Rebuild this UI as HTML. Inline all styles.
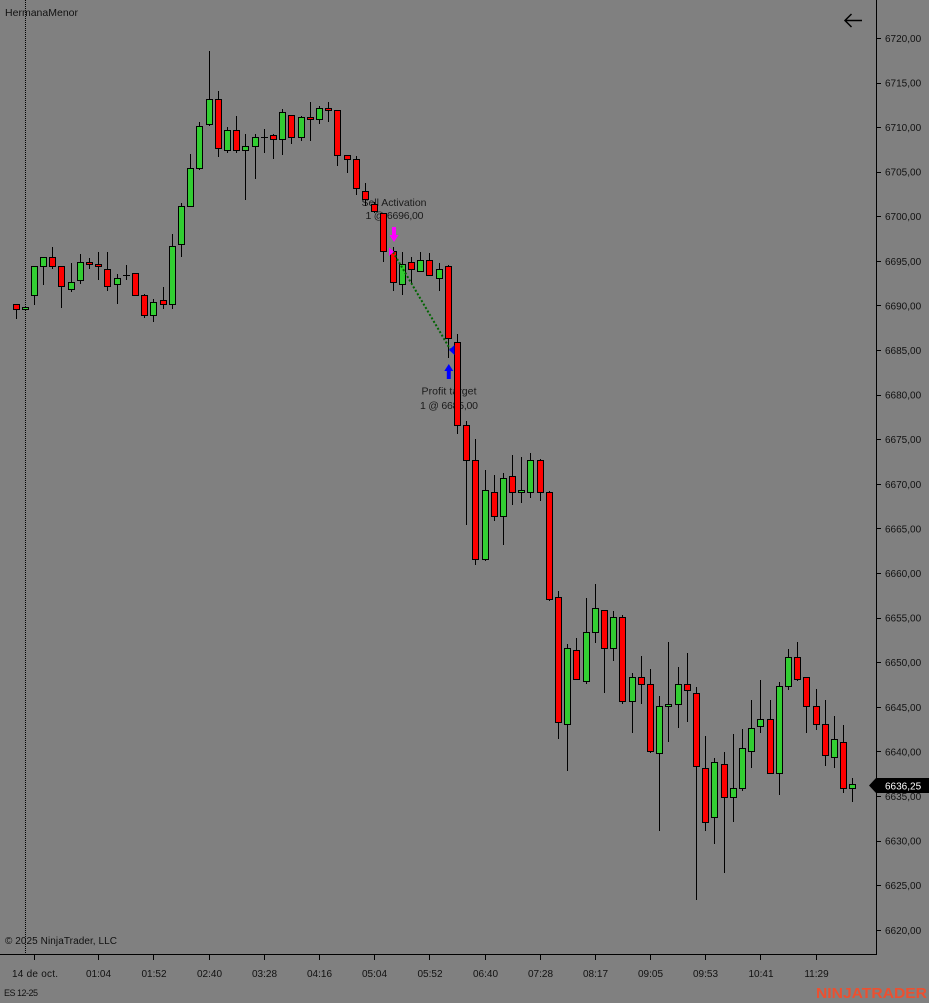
<!DOCTYPE html>
<html><head><meta charset="utf-8"><style>html,body{margin:0;padding:0;background:#808080;width:929px;height:1003px;overflow:hidden}svg{display:block}</style></head><body>
<svg width="929" height="1003" xmlns="http://www.w3.org/2000/svg" font-family="Liberation Sans, Arial, sans-serif">
<rect x="0" y="0" width="929" height="1003" fill="#808080"/>
<line x1="25.5" y1="0" x2="25.5" y2="954" stroke="#000" stroke-width="1" stroke-dasharray="1,1"/>
<text x="5" y="16" font-size="10.5" fill="#111" textLength="73">HermanaMenor</text>
<g font-size="10.5" fill="#1a1a1a" text-anchor="middle">
<text x="394" y="206" textLength="65">Sell Activation</text>
<text x="394.5" y="219" textLength="58">1 @ 6696,00</text>
<text x="449" y="394.5" textLength="55">Profit target</text>
<text x="449" y="409" textLength="58">1 @ 6685,00</text>
</g>
<path fill="none" stroke="#000" stroke-width="1" d="M16.5 304V319M34.5 266V305M43.5 257V285M52.5 247V269M61.5 266V308M71.5 263V292M80.5 254V284M89.5 258V269M98.5 252V280M107.5 252V291M117.5 274V304M126.5 265V280M144.5 294V318M153.5 299V322M163.5 287V309M172.5 234V309M181.5 203V257M190.5 154V206M199.5 122V170M209.5 51V126M218.5 91V157M227.5 127V153M236.5 116V153M245.5 134V200M255.5 134V179M264.5 129V153M273.5 134V159M282.5 109V155M291.5 115V144M301.5 116V141M310.5 102V141M319.5 106V124M328.5 102V122M337.5 110V166M347.5 155V173M356.5 156V195M365.5 183V206M374.5 202V213M383.5 213V262M393.5 247V291M402.5 252V295M411.5 257V284M420.5 252V271M429.5 253V275M439.5 263V291M448.5 265V358M457.5 334V434M466.5 421V525M475.5 439V565M485.5 470V561M494.5 475V521M503.5 473V545M512.5 455V505M521.5 457V503M530.5 453V498M540.5 459V501M549.5 491V601M558.5 591V739M567.5 644V771M576.5 638V679M586.5 598V684M595.5 584V643M604.5 610V693M613.5 611V661M622.5 615V704M632.5 673V733M641.5 656V704M650.5 669V753M659.5 696V831M668.5 642V742M678.5 667V728M687.5 653V722M696.5 687V900M705.5 736V831M714.5 758V844M724.5 752V873M733.5 734V822M742.5 729V791M751.5 700V768M760.5 680V733M770.5 700V773M779.5 682V795M788.5 649V690M797.5 642V681M806.5 677V733M816.5 689V730M825.5 700V766M834.5 716V768M843.5 725V793M852.5 778V802M123 275.5H130M261 137.5H268"/>
<g fill="#ff0000" stroke="#000" stroke-width="1">
<rect x="13.5" y="304.5" width="6" height="5"/>
<rect x="49.5" y="257.5" width="6" height="9"/>
<rect x="58.5" y="266.5" width="6" height="20"/>
<rect x="86.5" y="262.5" width="6" height="2"/>
<rect x="95.5" y="264.5" width="6" height="2"/>
<rect x="104.5" y="269.5" width="6" height="17"/>
<rect x="132.5" y="273.5" width="6" height="22"/>
<rect x="141.5" y="295.5" width="6" height="20"/>
<rect x="160.5" y="300.5" width="6" height="4"/>
<rect x="215.5" y="99.5" width="6" height="49"/>
<rect x="233.5" y="130.5" width="6" height="20"/>
<rect x="270.5" y="135.5" width="6" height="4"/>
<rect x="288.5" y="115.5" width="6" height="22"/>
<rect x="307.5" y="117.5" width="6" height="2"/>
<rect x="325.5" y="108.5" width="6" height="2"/>
<rect x="334.5" y="110.5" width="6" height="45"/>
<rect x="344.5" y="155.5" width="6" height="4"/>
<rect x="353.5" y="159.5" width="6" height="29"/>
<rect x="362.5" y="191.5" width="6" height="8"/>
<rect x="371.5" y="204.5" width="6" height="7"/>
<rect x="380.5" y="213.5" width="6" height="38"/>
<rect x="390.5" y="251.5" width="6" height="31"/>
<rect x="408.5" y="262.5" width="6" height="7"/>
<rect x="426.5" y="260.5" width="6" height="15"/>
<rect x="445.5" y="266.5" width="6" height="72"/>
<rect x="454.5" y="342.5" width="6" height="83"/>
<rect x="463.5" y="425.5" width="6" height="35"/>
<rect x="472.5" y="460.5" width="6" height="99"/>
<rect x="491.5" y="492.5" width="6" height="24"/>
<rect x="509.5" y="476.5" width="6" height="16"/>
<rect x="537.5" y="460.5" width="6" height="32"/>
<rect x="546.5" y="492.5" width="6" height="107"/>
<rect x="555.5" y="597.5" width="6" height="125"/>
<rect x="573.5" y="650.5" width="6" height="29"/>
<rect x="601.5" y="610.5" width="6" height="38"/>
<rect x="619.5" y="617.5" width="6" height="84"/>
<rect x="638.5" y="677.5" width="6" height="7"/>
<rect x="647.5" y="684.5" width="6" height="67"/>
<rect x="684.5" y="684.5" width="6" height="6"/>
<rect x="693.5" y="693.5" width="6" height="73"/>
<rect x="702.5" y="768.5" width="6" height="54"/>
<rect x="721.5" y="764.5" width="6" height="33"/>
<rect x="767.5" y="719.5" width="6" height="54"/>
<rect x="794.5" y="657.5" width="6" height="22"/>
<rect x="803.5" y="677.5" width="6" height="29"/>
<rect x="813.5" y="706.5" width="6" height="18"/>
<rect x="822.5" y="724.5" width="6" height="31"/>
<rect x="840.5" y="742.5" width="6" height="46"/>
</g>
<g fill="#32cd32" stroke="#000" stroke-width="1">
<rect x="22.5" y="307.5" width="6" height="2"/>
<rect x="31.5" y="266.5" width="6" height="29"/>
<rect x="40.5" y="257.5" width="6" height="9"/>
<rect x="68.5" y="282.5" width="6" height="7"/>
<rect x="77.5" y="262.5" width="6" height="18"/>
<rect x="114.5" y="278.5" width="6" height="6"/>
<rect x="150.5" y="302.5" width="6" height="13"/>
<rect x="169.5" y="246.5" width="6" height="58"/>
<rect x="178.5" y="206.5" width="6" height="38"/>
<rect x="187.5" y="168.5" width="6" height="38"/>
<rect x="196.5" y="126.5" width="6" height="42"/>
<rect x="206.5" y="99.5" width="6" height="25"/>
<rect x="224.5" y="130.5" width="6" height="20"/>
<rect x="242.5" y="146.5" width="6" height="4"/>
<rect x="252.5" y="137.5" width="6" height="9"/>
<rect x="279.5" y="112.5" width="6" height="27"/>
<rect x="298.5" y="117.5" width="6" height="20"/>
<rect x="316.5" y="108.5" width="6" height="11"/>
<rect x="399.5" y="264.5" width="6" height="20"/>
<rect x="417.5" y="260.5" width="6" height="11"/>
<rect x="436.5" y="269.5" width="6" height="9"/>
<rect x="482.5" y="490.5" width="6" height="69"/>
<rect x="500.5" y="478.5" width="6" height="38"/>
<rect x="518.5" y="490.5" width="6" height="2"/>
<rect x="527.5" y="460.5" width="6" height="32"/>
<rect x="564.5" y="648.5" width="6" height="76"/>
<rect x="583.5" y="632.5" width="6" height="49"/>
<rect x="592.5" y="608.5" width="6" height="24"/>
<rect x="610.5" y="617.5" width="6" height="31"/>
<rect x="629.5" y="677.5" width="6" height="24"/>
<rect x="656.5" y="706.5" width="6" height="47"/>
<rect x="665.5" y="704.5" width="6" height="2"/>
<rect x="675.5" y="684.5" width="6" height="20"/>
<rect x="711.5" y="762.5" width="6" height="55"/>
<rect x="730.5" y="788.5" width="6" height="9"/>
<rect x="739.5" y="748.5" width="6" height="40"/>
<rect x="748.5" y="728.5" width="6" height="23"/>
<rect x="757.5" y="719.5" width="6" height="7"/>
<rect x="776.5" y="686.5" width="6" height="87"/>
<rect x="785.5" y="657.5" width="6" height="29"/>
<rect x="831.5" y="739.5" width="6" height="18"/>
<rect x="849.5" y="784.5" width="6" height="4"/>
</g>
<line x1="393" y1="252" x2="450" y2="349" stroke="#006400" stroke-width="2" stroke-dasharray="2,2"/>
<polygon points="392,227 396,227 396,235 398.5,235 394,242 389.5,235 392,235" fill="#ff00ff"/>
<polygon points="389,247.5 389,256 394,251.7" fill="#ff00ff"/>
<polygon points="449,350 454.5,345 454.5,355" fill="#0000ff"/>
<polygon points="448.8,364 453.3,371 450.8,371 450.8,379 446.8,379 446.8,371 444.3,371" fill="#0000ff"/>
<line x1="876.5" y1="0" x2="876.5" y2="954" stroke="#000" stroke-width="1"/>
<line x1="0" y1="954.5" x2="877" y2="954.5" stroke="#000" stroke-width="1"/>
<path fill="none" stroke="#000" stroke-width="1" d="M876 38.5H881M876 83.5H881M876 127.5H881M876 172.5H881M876 216.5H881M876 261.5H881M876 305.5H881M876 350.5H881M876 395.5H881M876 439.5H881M876 484.5H881M876 528.5H881M876 573.5H881M876 618.5H881M876 662.5H881M876 707.5H881M876 751.5H881M876 796.5H881M876 841.5H881M876 885.5H881M876 930.5H881M34.5 954V960M98.5 954V960M153.5 954V960M209.5 954V960M264.5 954V960M319.5 954V960M374.5 954V960M429.5 954V960M485.5 954V960M540.5 954V960M595.5 954V960M650.5 954V960M705.5 954V960M760.5 954V960M816.5 954V960"/>
<g font-size="10" fill="#111">
<text x="885" y="42">6720,00</text>
<text x="885" y="86.5">6715,00</text>
<text x="885" y="131">6710,00</text>
<text x="885" y="175.5">6705,00</text>
<text x="885" y="220">6700,00</text>
<text x="885" y="265">6695,00</text>
<text x="885" y="309.5">6690,00</text>
<text x="885" y="354">6685,00</text>
<text x="885" y="398.5">6680,00</text>
<text x="885" y="443">6675,00</text>
<text x="885" y="488">6670,00</text>
<text x="885" y="532.5">6665,00</text>
<text x="885" y="577">6660,00</text>
<text x="885" y="621.5">6655,00</text>
<text x="885" y="666">6650,00</text>
<text x="885" y="711">6645,00</text>
<text x="885" y="755.5">6640,00</text>
<text x="885" y="800">6635,00</text>
<text x="885" y="844.5">6630,00</text>
<text x="885" y="889">6625,00</text>
<text x="885" y="934">6620,00</text>
</g>
<g font-size="10" fill="#111" text-anchor="middle">
<text x="35" y="977" textLength="46">14 de oct.</text>
<text x="98.5" y="977">01:04</text>
<text x="154" y="977">01:52</text>
<text x="209.5" y="977">02:40</text>
<text x="264.5" y="977">03:28</text>
<text x="319.5" y="977">04:16</text>
<text x="374.5" y="977">05:04</text>
<text x="430" y="977">05:52</text>
<text x="485.5" y="977">06:40</text>
<text x="540.5" y="977">07:28</text>
<text x="595.5" y="977">08:17</text>
<text x="650.5" y="977">09:05</text>
<text x="705.5" y="977">09:53</text>
<text x="761" y="977">10:41</text>
<text x="816.5" y="977">11:29</text>
</g>
<text x="5" y="944" font-size="10" fill="#111" textLength="112">© 2025 NinjaTrader, LLC</text>
<text x="4" y="996" font-size="9" fill="#111" textLength="34">ES 12-25</text>
<polygon points="869,785.5 876,778 929,778 929,793 876,793" fill="#000"/>
<text x="885" y="789.5" font-size="10" fill="#fff">6636,25</text>
<path d="M845 20.5H862M851.5 14L845 20.5L851.5 27" fill="none" stroke="#000" stroke-width="1.5"/>
<text x="816" y="998" font-size="15" font-weight="bold" fill="#ec5030" textLength="111" lengthAdjust="spacingAndGlyphs">NINJATRADER</text>
</svg>
</body></html>
